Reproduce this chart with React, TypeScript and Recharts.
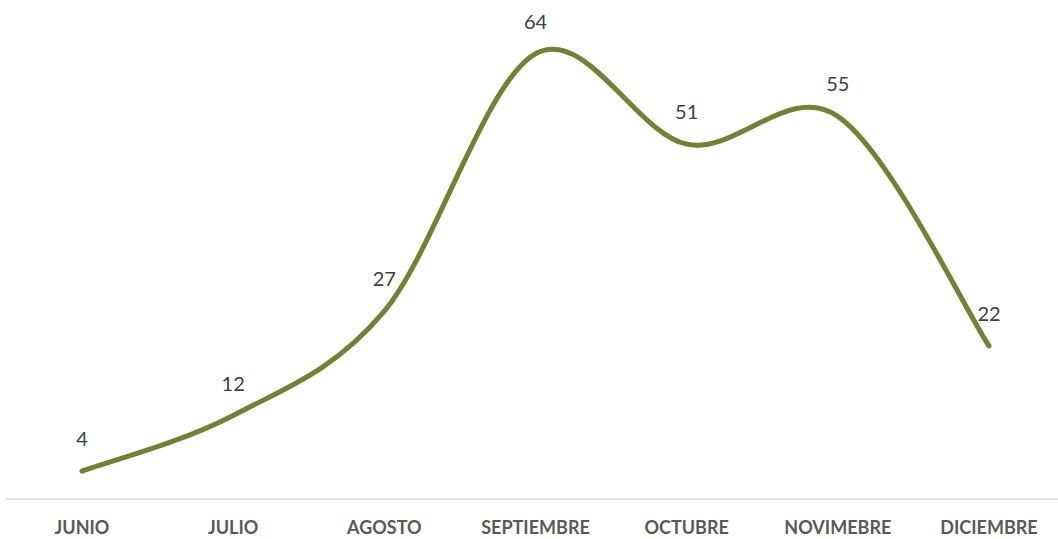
import { CartesianGrid, LabelList, Line, LineChart, XAxis, YAxis } from "recharts";

const months = ["JUNIO", "JULIO", "AGOSTO", "SEPTIEMBRE", "OCTUBRE", "NOVIMEBRE", "DICIEMBRE"];
const values = [4, 12, 27, 64, 51, 55, 22];

const LINE_COLOR = "#708233";
const FONT = "'Century Gothic', Lato, 'Open Sans', sans-serif";

const data = months.map((month, i) => ({ month, value: values[i] }));

// Excel-style smoothed line (Catmull-Rom, control points at 1/6 of neighbour span)
function smoothCurve(context: any) {
  let pts: [number, number][] = [];
  return {
    areaStart() {},
    areaEnd() {},
    lineStart() {
      pts = [];
    },
    point(x: number, y: number) {
      pts.push([x, y]);
    },
    lineEnd() {
      if (!pts.length) return;
      context.moveTo(pts[0][0], pts[0][1]);
      for (let i = 0; i < pts.length - 1; i++) {
        const p0 = pts[Math.max(i - 1, 0)];
        const p1 = pts[i];
        const p2 = pts[i + 1];
        const p3 = pts[Math.min(i + 2, pts.length - 1)];
        context.bezierCurveTo(
          p1[0] + (p2[0] - p0[0]) / 6,
          p1[1] + (p2[1] - p0[1]) / 6,
          p2[0] - (p3[0] - p1[0]) / 6,
          p2[1] - (p3[1] - p1[1]) / 6,
          p2[0],
          p2[1],
        );
      }
    },
  };
}

function MonthTick({ x, y, payload }: any) {
  return (
    <text
      x={x}
      y={y}
      dy={27}
      textAnchor="middle"
      fontSize={18}
      fontWeight={700}
      fontFamily={FONT}
      fill="#595959"
    >
      {payload.value}
    </text>
  );
}

export default function App() {
  return (
    <div style={{ position: "absolute", left: 0, top: 0, width: 1058, height: 539, background: "#fff" }}>
      <LineChart width={1058} height={539} data={data} margin={{ top: 5, right: 0, left: 6, bottom: 0 }}>
        <CartesianGrid horizontal={false} vertical={false} />
        <XAxis
          dataKey="month"
          axisLine={{ stroke: "#d9d9d9", strokeWidth: 1.5 }}
          tickLine={false}
          interval={0}
          height={40}
          padding={{ left: 76, right: 69 }}
          tick={<MonthTick />}
        />
        <YAxis hide domain={[0, 71]} />
        <Line
          type={smoothCurve as any}
          dataKey="value"
          stroke={LINE_COLOR}
          strokeWidth={5}
          strokeLinecap="round"
          dot={false}
          activeDot={false}
          isAnimationActive={false}
        >
          <LabelList
            dataKey="value"
            position="top"
            offset={25}
            fontSize={20}
            fontFamily={FONT}
            fill="#404040"
          />
        </Line>
      </LineChart>
    </div>
  );
}
